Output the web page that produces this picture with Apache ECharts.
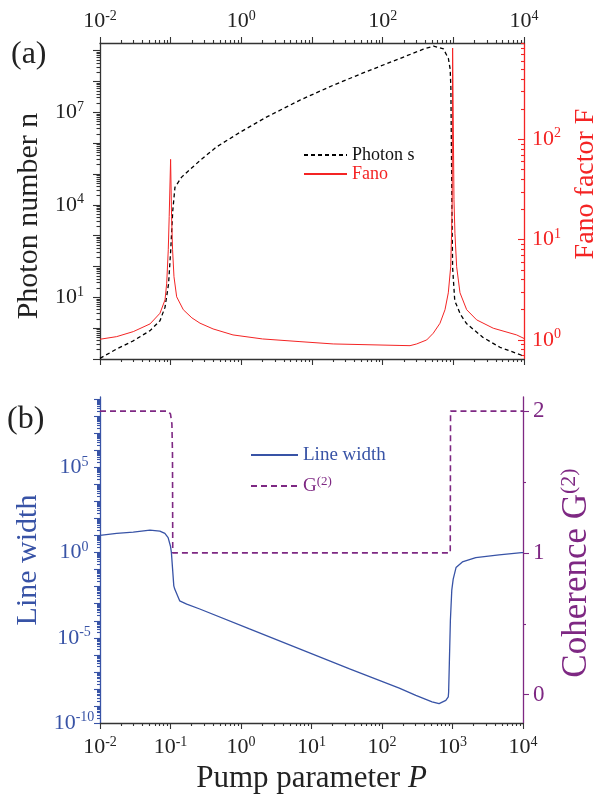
<!DOCTYPE html>
<html><head><meta charset="utf-8">
<script src="https://cdn.jsdelivr.net/npm/echarts@6/dist/echarts.min.js"></script>
<style>html,body{margin:0;padding:0;background:#fff}#c{width:594px;height:802px}</style>
</head><body><div id="c"></div>
<script>
// ---------------- data ----------------
// Panel (a): photon number n vs pump parameter P
const photonP = [0.01, 0.0172, 0.0296, 0.0511, 0.0706, 0.0832, 0.0933, 0.1, 0.107, 0.115, 0.143, 0.26, 0.447, 1, 2.29, 6.76, 20, 59, 176, 376, 525, 724, 851, 902, 923, 938, 955, 977, 1047, 1259, 1549, 2630, 4571, 9550, 10000];
const photonN = [0.105, 0.211, 0.389, 0.832, 1.74, 4.79, 26.9, 316, 6310, 3.72e4, 7.94e4, 2.75e5, 7.6e5, 2.4e6, 7.1e6, 2.5e7, 7.6e7, 2.1e8, 5.6e8, 1.12e9, 1.41e9, 1.15e9, 5.6e8, 2.5e8, 6.3e7, 1e6, 1e4, 93, 7.8, 2.8, 1.38, 0.5, 0.24, 0.129, 0.12];
// Panel (a): Fano factor F
const fanoP = [0.01, 0.0172, 0.0296, 0.0511, 0.0706, 0.0832, 0.0879, 0.0925, 0.0953, 0.0998, 0.103, 0.1064, 0.1114, 0.1216, 0.151, 0.1995, 0.26, 0.398, 0.762, 1.995, 6.76, 19.95, 175.8, 243.8, 302.7, 419.8, 520, 647, 762, 849, 918, 944, 964, 977, 1021, 1054, 1114, 1242, 1545, 2138, 3673, 7870, 10000];
const fano = [1.016, 1.079, 1.211, 1.445, 1.845, 2.512, 3.68, 7.94, 17.0, 63.1, 17.0, 7.94, 4.27, 2.69, 2.0, 1.66, 1.469, 1.288, 1.122, 1.023, 0.962, 0.912, 0.881, 0.877, 0.912, 1.0, 1.167, 1.466, 2.0, 2.95, 5.37, 11.5, 25.1, 813, 25.1, 11.5, 5.37, 2.95, 2.0, 1.585, 1.309, 1.122, 1.035];
// Panel (b): line width
const lwP = [0.01, 0.0172, 0.0296, 0.0511, 0.0706, 0.0832, 0.0925, 0.0998, 0.103, 0.1072, 0.1114, 0.1148, 0.1349, 0.1698, 0.26, 1.318, 6.76, 34.7, 175.8, 302, 513, 646, 804, 871, 881, 902, 933, 977, 1023, 1122, 1380, 2138, 4571, 9550, 10000];
const lineWidth = [10.2, 13.5, 15.8, 20.9, 18.2, 13.5, 7.59, 2.45, 1.0, 0.1, 0.0112, 0.00724, 0.00148, 0.000955, 0.00049, 3.31e-5, 2.24e-6, 1.51e-7, 1.12e-8, 4.17e-9, 1.74e-9, 1.38e-9, 2.14e-9, 3.39e-9, 6.31e-9, 3.16e-7, 1e-4, 6.31e-3, 0.0275, 0.132, 0.282, 0.513, 0.724, 1.0, 1.0];
// Panel (b): coherence G(2)
const g2P = [0.01, 0.0925, 0.1, 0.1047, 0.1067, 0.1076, 929, 938, 10000];
const g2 = [2, 2, 1.98, 1.91, 1.7, 1.0, 1.0, 2.0, 2.0];

// tick labels (exponents of 10, or plain values)
const topXLabelExp = [-2, 0, 2, 4];
const bottomXLabelExp = [-2, -1, 0, 1, 2, 3, 4];
const photonLabelExp = [1, 4, 7];
const fanoLabelExp = [0, 1, 2];
const lwLabelExp = [-10, -5, 0, 5];
const g2Labels = [0, 1, 2];

// ---------------- styling ----------------
const FONT = '"Liberation Serif", "DejaVu Serif", serif';
const BLACK = '#222222', AXC = '#333333', RED = '#f42424', BLUE = '#3853a6', PURPLE = '#7e2883';
const lg = Math.log10;

function majors(min, max) { const o = []; for (let n = Math.ceil(min); n <= Math.floor(max); n++) o.push(n); return o; }
function minors(min, max) {
  const o = [];
  for (let n = Math.floor(min) - 1; n <= Math.ceil(max); n++)
    for (let k = 2; k <= 9; k++) { const v = n + lg(k); if (v >= min && v <= max) o.push(v); }
  return o;
}
function powLabel(color, size, sup) {
  return {
    formatter: v => '{b|10}{s|' + Math.round(v) + '}',
    rich: {
      b: { fontFamily: FONT, fontSize: size, color: color, lineHeight: size + 3 },
      s: { fontFamily: FONT, fontSize: sup, color: color, lineHeight: sup, verticalAlign: 'top' }
    }
  };
}
function ax(o) {
  const a = {
    type: 'value', gridIndex: o.grid, position: o.pos, min: o.min, max: o.max,
    axisLine: { show: o.line !== false, onZero: false, lineStyle: { color: o.color, width: 1.3 } },
    axisTick: { show: true, customValues: o.ticks, length: o.len, inside: !!o.inside, lineStyle: { color: o.color, width: 1.1 } },
    axisLabel: o.labels ? Object.assign({ show: true, customValues: o.labels, margin: o.margin }, o.labelStyle) : { show: false },
    splitLine: { show: false }, minorTick: { show: false }, axisPointer: { show: false }
  };
  if (o.name) Object.assign(a, { name: o.name, nameLocation: 'middle', nameGap: o.nameGap, nameTextStyle: o.nameStyle });
  return a;
}

// axis ranges (log10 space for log axes)
const X = [-2, 4];
const YN = [-1, 9.25];
const YF = [-0.19, 2.96];
const YL = [-10, 9.13];
const YG = [-0.2, 2.1];

const xAxis = [
  ax({ grid: 0, pos: 'top', min: X[0], max: X[1], color: AXC, ticks: majors(...X), len: 6, labels: topXLabelExp, margin: 9, labelStyle: powLabel(BLACK, 22, 14) }),
  ax({ grid: 0, pos: 'top', min: X[0], max: X[1], color: AXC, ticks: minors(...X), len: 3, line: false }),
  ax({ grid: 0, pos: 'bottom', min: X[0], max: X[1], color: AXC, ticks: majors(...X), len: 6 }),
  ax({ grid: 0, pos: 'bottom', min: X[0], max: X[1], color: AXC, ticks: minors(...X), len: 3, line: false }),
  ax({ grid: 1, pos: 'bottom', min: X[0], max: X[1], color: AXC, ticks: majors(...X), len: 6, labels: bottomXLabelExp, margin: 12, labelStyle: powLabel(BLACK, 22, 14),
       name: '{t|Pump parameter }{i|P}', nameGap: 40,
       nameStyle: { rich: { t: { fontFamily: FONT, fontSize: 31, color: BLACK }, i: { fontFamily: FONT, fontSize: 31, fontStyle: 'italic', color: BLACK } } } }),
  ax({ grid: 1, pos: 'bottom', min: X[0], max: X[1], color: AXC, ticks: minors(...X), len: 3, line: false })
];

const yAxis = [
  ax({ grid: 0, pos: 'left', min: YN[0], max: YN[1], color: AXC, ticks: majors(...YN), len: 7, labels: photonLabelExp, margin: 16,
       labelStyle: Object.assign(powLabel(BLACK, 22, 14), { align: 'right' }),
       name: 'Photon number n', nameGap: 50, nameStyle: { fontFamily: FONT, fontSize: 30, color: BLACK, padding: [0, 30, 0, 0] } }),
  ax({ grid: 0, pos: 'left', min: YN[0], max: YN[1], color: AXC, ticks: minors(...YN), len: 3.5, line: false }),
  ax({ grid: 0, pos: 'right', min: YF[0], max: YF[1], color: RED, ticks: majors(...YF), len: 6, inside: true, labels: fanoLabelExp, margin: 8,
       labelStyle: powLabel(RED, 22, 14),
       name: 'Fano factor F', nameGap: 31, nameStyle: { fontFamily: FONT, fontSize: 28, color: RED, padding: [0, 0, 0, 34] } }),
  ax({ grid: 0, pos: 'right', min: YF[0], max: YF[1], color: RED, ticks: minors(...YF), len: 3, inside: true, line: false }),
  ax({ grid: 1, pos: 'left', min: YL[0], max: YL[1], color: BLUE, ticks: majors(...YL), len: 6, labels: lwLabelExp, margin: 26,
       labelStyle: Object.assign(powLabel(BLUE, 22, 14), { align: 'center' }),
       name: 'Line width', nameGap: 54, nameStyle: { fontFamily: FONT, fontSize: 30, color: BLUE } }),
  ax({ grid: 1, pos: 'left', min: YL[0], max: YL[1], color: BLUE, ticks: minors(...YL), len: 3, line: false }),
  ax({ grid: 1, pos: 'right', min: YG[0], max: YG[1], color: PURPLE, ticks: g2Labels, len: 6, labels: g2Labels, margin: 10,
       labelStyle: { fontFamily: FONT, fontSize: 23, color: PURPLE },
       name: '{t|Coherence G}{s|(2)}', nameGap: 35,
       nameStyle: { padding: [0, 26, 0, 0], rich: { t: { fontFamily: FONT, fontSize: 35, color: PURPLE, lineHeight: 38 }, s: { fontFamily: FONT, fontSize: 22, color: PURPLE, lineHeight: 22, verticalAlign: 'top' } } } }),
  ax({ grid: 1, pos: 'right', min: YG[0], max: YG[1], color: PURPLE, ticks: [0.5, 1.5], len: 3, line: false })
];

const toLog = (xs, ys) => xs.map((x, i) => [lg(x), lg(ys[i])]);
const toLogX = (xs, ys) => xs.map((x, i) => [lg(x), ys[i]]);

const option = {
  animation: false,
  backgroundColor: '#ffffff',
  grid: [
    { left: 100, top: 43, width: 424, height: 316, outerBoundsMode: 'none', containLabel: false },
    { left: 100, top: 397, width: 423, height: 326, outerBoundsMode: 'none', containLabel: false }
  ],
  xAxis, yAxis,
  legend: [
    { orient: 'vertical', left: 303, top: 146, padding: 0, itemWidth: 43, itemHeight: 12, itemGap: 1,
      itemStyle: { opacity: 0 },
      textStyle: { fontFamily: FONT, fontSize: 18, lineHeight: 18 },
      data: [{ name: 'Photon s', textStyle: { color: '#111' } }, { name: 'Fano', textStyle: { color: RED } }] },
    { orient: 'vertical', left: 250, top: 444, padding: 0, itemWidth: 47, itemHeight: 12, itemGap: 9,
      itemStyle: { opacity: 0 },
      textStyle: { fontFamily: FONT, fontSize: 19, lineHeight: 22,
        rich: { g: { fontFamily: FONT, fontSize: 19, color: PURPLE, lineHeight: 22 }, s: { fontFamily: FONT, fontSize: 13, color: PURPLE, lineHeight: 13, verticalAlign: 'top' } } },
      formatter: n => n === 'G(2)' ? '{g|G}{s|(2)}' : n,
      data: [{ name: 'Line width', textStyle: { color: BLUE } }, { name: 'G(2)' }] }
  ],
  graphic: [
    { type: 'text', left: 11, top: 39, style: { text: '(a)', font: '32px "Liberation Serif"', fill: BLACK } },
    { type: 'text', left: 7, top: 404, style: { text: '(b)', font: '32px "Liberation Serif"', fill: BLACK } }
  ],
  series: [
    { name: 'Photon s', type: 'line', xAxisIndex: 0, yAxisIndex: 0, symbol: 'none', data: toLog(photonP, photonN),
      lineStyle: { color: '#000', width: 1.3, type: [4, 3] }, itemStyle: { color: '#000' } },
    { name: 'Fano', type: 'line', xAxisIndex: 0, yAxisIndex: 2, symbol: 'none', data: toLog(fanoP, fano),
      lineStyle: { color: RED, width: 1 }, itemStyle: { color: RED } },
    { name: 'Line width', type: 'line', xAxisIndex: 4, yAxisIndex: 4, symbol: 'none', data: toLog(lwP, lineWidth),
      lineStyle: { color: BLUE, width: 1.3 }, itemStyle: { color: BLUE } },
    { name: 'G(2)', type: 'line', xAxisIndex: 4, yAxisIndex: 6, symbol: 'none', data: toLogX(g2P, g2),
      lineStyle: { color: PURPLE, width: 1.6, type: [6, 4] }, itemStyle: { color: PURPLE } }
  ]
};
const chart = echarts.init(document.getElementById('c'), null, { renderer: 'canvas' });
chart.setOption(option);
</script>
</body></html>
